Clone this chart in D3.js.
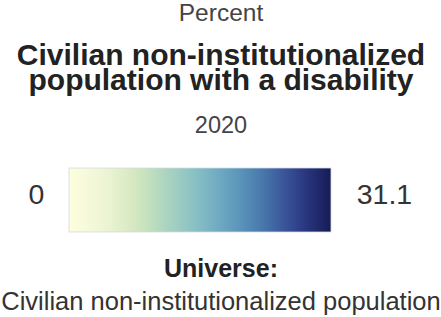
<!DOCTYPE html>
<html>
<head>
<meta charset="utf-8">
<script src="https://cdn.jsdelivr.net/npm/d3@7"></script>
<style>
  html, body { margin: 0; padding: 0; background: #fff; }
  svg { display: block; font-family: "Liberation Sans", Arial, sans-serif; }
</style>
</head>
<body>
<div id="chart"></div>
<script>
// legend data
const measureLabel = "Percent";
const titleLines = ["Civilian non-institutionalized", "population with a disability"];
const yearLabel = "2020";
const legendDomain = [0, 31.1];
const legendTickLabels = ["0", "31.1"];
const universeLabel = "Universe:";
const universeText = "Civilian non-institutionalized population";
// colour ramp, light -> dark
const rampColors = ["#fdfedb", "#f1f5dc", "#d7eabb", "#a8d4c0", "#84bdc6",
                    "#5f9ebf", "#4675aa", "#303d8e", "#151c55"];

const width = 441;
const height = 317;

const svg = d3.select("#chart")
    .append("svg")
    .attr("width", width)
    .attr("height", height);

const cx = 221;

svg.append("text")
    .attr("x", cx).attr("y", 21)
    .attr("text-anchor", "middle")
    .attr("font-size", "24.5px")
    .attr("fill", "#444")
    .text(measureLabel);

// two-line title in one text element (tight line height like the original)
const title = svg.append("text")
    .attr("class", "title")
    .attr("x", cx)
    .attr("y", 64.5)
    .attr("text-anchor", "middle")
    .attr("font-size", "30px")
    .attr("font-weight", "bold")
    .attr("fill", "#222");

title.selectAll("tspan")
    .data(titleLines)
    .enter()
    .append("tspan")
    .attr("x", cx)
    .attr("dy", (d, i) => i === 0 ? 0 : 25.5)
    .text((d) => d);

svg.append("text")
    .attr("x", cx).attr("y", 133)
    .attr("text-anchor", "middle")
    .attr("font-size", "23.5px")
    .attr("fill", "#444")
    .text(yearLabel);

// colour bar
const barX = d3.scaleLinear().domain(legendDomain).range([69, 331]);
const color = d3.scaleSequential(d3.interpolateRgbBasis(rampColors)).domain(legendDomain);

const grad = svg.append("defs")
    .append("linearGradient")
    .attr("id", "ramp")
    .attr("x1", "0%").attr("x2", "100%")
    .attr("y1", "0%").attr("y2", "0%");

const stopVals = d3.range(0, 1.0001, 0.05);
grad.selectAll("stop")
    .data(stopVals)
    .enter()
    .append("stop")
    .attr("offset", (t) => (t * 100) + "%")
    .attr("stop-color", (t) => color(legendDomain[0] + t * (legendDomain[1] - legendDomain[0])));

svg.append("rect")
    .attr("x", barX(legendDomain[0]))
    .attr("y", 168)
    .attr("width", barX(legendDomain[1]) - barX(legendDomain[0]))
    .attr("height", 64)
    .attr("fill", "url(#ramp)")
    .attr("stroke", "#d3d7e4")
    .attr("stroke-width", 0.8);

// end labels
svg.append("text")
    .attr("x", 36.5).attr("y", 204)
    .attr("text-anchor", "middle")
    .attr("font-size", "28.5px")
    .attr("fill", "#333")
    .text(legendTickLabels[0]);

svg.append("text")
    .attr("x", 384.5).attr("y", 204)
    .attr("text-anchor", "middle")
    .attr("font-size", "28.5px")
    .attr("fill", "#333")
    .text(legendTickLabels[1]);

// universe
svg.append("text")
    .attr("x", cx).attr("y", 277)
    .attr("text-anchor", "middle")
    .attr("font-size", "25px")
    .attr("font-weight", "bold")
    .attr("fill", "#222")
    .text(universeLabel);

svg.append("text")
    .attr("x", cx).attr("y", 310)
    .attr("text-anchor", "middle")
    .attr("font-size", "25.5px")
    .attr("fill", "#333")
    .text(universeText);
</script>
</body>
</html>
